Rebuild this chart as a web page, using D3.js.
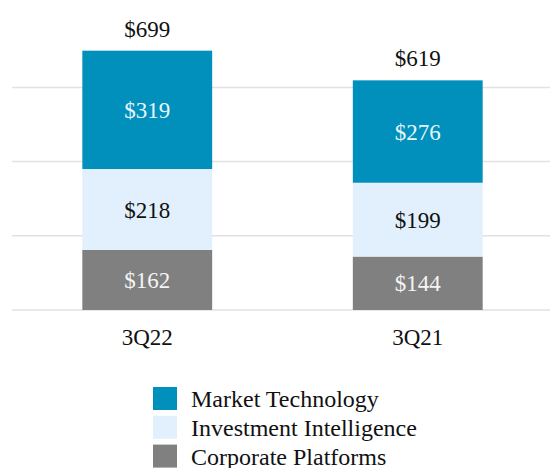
<!DOCTYPE html>
<html>
<head>
<meta charset="utf-8">
<script src="https://cdn.jsdelivr.net/npm/d3@7"></script>
<style>
  body { margin: 0; background: #fff; }
  svg { display: block; font-family: "Liberation Serif", "Times New Roman", serif; }
</style>
</head>
<body>
<div id="chart"></div>
<script>
const quarters = ["3Q22", "3Q21"];
const segments = ["Corporate Platforms", "Investment Intelligence", "Market Technology"];
const corporatePlatforms = [162, 144];
const investmentIntelligence = [218, 199];
const marketTechnology = [319, 276];
const totals = [699, 619];
const gridTicks = [0, 200, 400, 600];

const width = 550, height = 468;
const colors = {
    "Market Technology": "#0190bb",
    "Investment Intelligence": "#e1f0fc",
    "Corporate Platforms": "#808080"
};
const labelColors = {
    "Market Technology": "#e8f6fb",
    "Investment Intelligence": "#111",
    "Corporate Platforms": "#f4f4f4"
};

const rows = quarters.map((q, i) => ({
    quarter: q,
    "Corporate Platforms": corporatePlatforms[i],
    "Investment Intelligence": investmentIntelligence[i],
    "Market Technology": marketTechnology[i],
    total: totals[i]
}));

const svg = d3.select("#chart").append("svg")
    .attr("width", width)
    .attr("height", height);

const x = d3.scaleBand()
    .domain(quarters)
    .range([12, 553])
    .paddingInner(0.52)
    .paddingOuter(0.26);

const y = d3.scaleLinear()
    .domain([0, 600])
    .range([310, 87.4]);

// gridlines
svg.append("g")
    .selectAll("line")
    .data(gridTicks)
    .enter()
    .append("line")
    .attr("x1", 12)
    .attr("x2", width)
    .attr("y1", d => y(d))
    .attr("y2", d => y(d))
    .attr("stroke", "#e2e2e2")
    .attr("stroke-width", 1.5);

const stacked = d3.stack().keys(segments)(rows);

const layers = svg.append("g")
    .selectAll("g")
    .data(stacked)
    .enter()
    .append("g");

layers.selectAll("rect")
    .data(d => d.map(p => ({ key: d.key, p: p })))
    .enter()
    .append("rect")
    .attr("x", d => x(d.p.data.quarter))
    .attr("width", x.bandwidth())
    .attr("y", d => y(d.p[1]))
    .attr("height", d => y(d.p[0]) - y(d.p[1]))
    .attr("fill", d => colors[d.key]);

layers.selectAll("text")
    .data(d => d.map(p => ({ key: d.key, p: p })))
    .enter()
    .append("text")
    .attr("x", d => x(d.p.data.quarter) + x.bandwidth() / 2)
    .attr("y", d => (y(d.p[0]) + y(d.p[1])) / 2)
    .attr("dy", "0.35em")
    .attr("text-anchor", "middle")
    .attr("font-size", "23px")
    .attr("fill", d => labelColors[d.key])
    .text(d => "$" + (d.p[1] - d.p[0]));

// totals
svg.append("g")
    .selectAll("text")
    .data(rows)
    .enter()
    .append("text")
    .attr("x", d => x(d.quarter) + x.bandwidth() / 2)
    .attr("y", d => y(d.total) - 14)
    .attr("text-anchor", "middle")
    .attr("font-size", "23px")
    .attr("fill", "#111")
    .text(d => "$" + d.total);

// category axis
const xAxis = svg.append("g")
    .attr("transform", "translate(0,310)")
    .call(d3.axisBottom(x).tickSize(0).tickPadding(19));
xAxis.select(".domain").remove();
xAxis.selectAll("text")
    .attr("font-family", "Liberation Serif, serif")
    .attr("font-size", "23px")
    .attr("fill", "#111");

// legend
const legendOrder = ["Market Technology", "Investment Intelligence", "Corporate Platforms"];
const legend = svg.append("g")
    .selectAll("g")
    .data(legendOrder)
    .enter()
    .append("g")
    .attr("transform", (d, i) => `translate(153,${387 + i * 28.8})`);
legend.append("rect")
    .attr("width", 24)
    .attr("height", 23)
    .attr("fill", d => colors[d]);
legend.append("text")
    .attr("x", 38)
    .attr("y", 12)
    .attr("dy", "0.35em")
    .attr("font-size", "24px")
    .attr("fill", "#111")
    .text(d => d);
</script>
</body>
</html>
